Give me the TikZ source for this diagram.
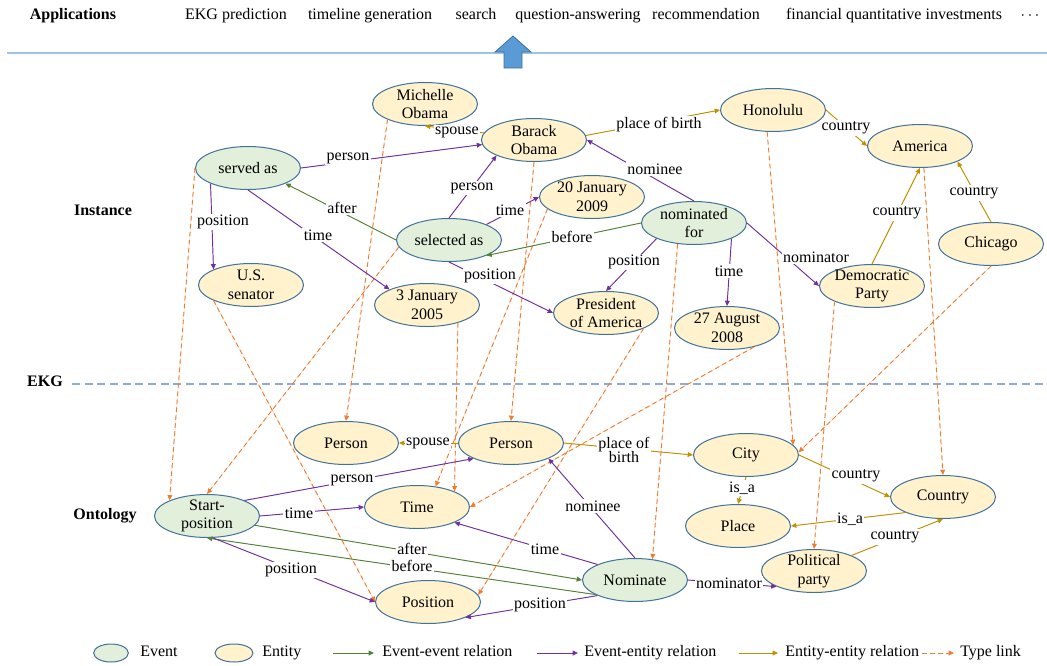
\documentclass[tikz,border=0pt]{standalone}
\usepackage{fontspec}
\setmainfont{Liberation Serif}
\newfontfamily\tnr{Liberation Serif}
\usetikzlibrary{shapes.geometric,arrows.meta}
\definecolor{evfill}{HTML}{E2EFDA}
\definecolor{enfill}{HTML}{FFF2CC}
\definecolor{nodeborder}{HTML}{41719C}
\definecolor{eecol}{HTML}{548235}
\definecolor{encol}{HTML}{7030A0}
\definecolor{nncol}{HTML}{BF9000}
\definecolor{tycol}{HTML}{ED7D31}
\definecolor{linecol}{HTML}{9DC3E6}
\definecolor{dashcol}{HTML}{8FAADC}
\definecolor{arrfill}{HTML}{5B9BD5}
\tikzset{
  base/.style={ellipse, draw=nodeborder, line width=0.75pt, inner xsep=-4pt, inner ysep=-6pt,
    minimum width=78.75pt, minimum height=32.25pt, align=center,
    font=\tnr\fontsize{12}{14}\selectfont},
  evnode/.style={base, fill=evfill},
  ennode/.style={base, fill=enfill},
  tip/.style={-{Triangle[length=4pt,width=3.6pt]}},
  eerel/.style={tip, draw=eecol, fill=eecol, line width=0.7pt},
  enrel/.style={tip, draw=encol, fill=encol, line width=0.7pt},
  nnrel/.style={tip, draw=nncol, fill=nncol, line width=0.7pt},
  tylink/.style={tip, draw=tycol, fill=tycol, line width=0.7pt, dash pattern=on 3.5pt off 2.5pt},
  lbl/.style={fill=white, inner sep=1pt, text=black, align=center,
    font=\tnr\fontsize{12}{11}\selectfont},
  txt/.style={inner sep=0pt, text height=8.2pt, text depth=2.6pt, font=\tnr\fontsize{12}{14}\selectfont},
  btxt/.style={inner sep=0pt, text height=8.2pt, text depth=2.6pt, font=\tnr\fontsize{12}{14}\selectfont\bfseries},
}
\begin{document}
\begin{tikzpicture}[x=0.75pt,y=-0.75pt]
\useasboundingbox (0,0) rectangle (1047,665);

% top bar
\node[btxt] (apps) at (73,16) {Applications};
\node[txt] (a1) at (236,16) {EKG prediction};
\node[txt] (a2) at (370,16) {timeline generation};
\node[txt] (a3) at (476,16) {search};
\node[txt] (a4) at (578,16) {question-answering};
\node[txt] (a5) at (706,16) {recommendation};
\node[txt] (a6) at (894,16) {financial quantitative investments};
\node[txt] (a7) at (1030,16) {$\cdots$};
\coordinate (tl) at (7,53);
\coordinate (tr) at (1047,53);
\draw[linecol, line width=1.5pt] (tl) -- (tr);
\draw[nodeborder, fill=arrfill, line width=0.6pt]
  (504,68) -- (504,52) -- (495,52) -- (513,36) -- (531,52) -- (522,52) -- (522,68) -- cycle;

% side labels
\node[btxt] (inst) at (103,212) {Instance};
\node[btxt] (ekg) at (45,383) {EKG};
\node[btxt] (onto) at (105,516) {Ontology};
\coordinate (dl) at (72,384);
\coordinate (dr) at (1047,384);
\draw[dashcol, line width=1pt, dash pattern=on 6pt off 3.5pt] (dl) -- (dr);

% instance nodes
\node[ennode] (michelle) at (425,104) {Michelle\\Obama};
\node[ennode] (barack) at (534,140) {Barack\\Obama};
\node[evnode] (served) at (248,168) {served as};
\node[ennode] (senator) at (251,285) {U.S.\\senator};
\node[evnode] (selected) at (449,240) {selected as};
\node[ennode] (jan2005) at (427,305) {3 January\\2005};
\node[ennode] (jan2009) at (592,197) {20 January\\2009};
\node[evnode] (nominated) at (694,223) {nominated\\for};
\node[ennode] (president) at (606,313) {President\\of America};
\node[ennode] (aug2008) at (727,328) {27 August\\2008};
\node[ennode] (honolulu) at (773,110) {Honolulu};
\node[ennode] (america) at (920,146) {America};
\node[ennode] (chicago) at (991,244) {Chicago};
\node[ennode] (democratic) at (872,286) {Democratic\\Party};

% ontology nodes
\node[ennode] (personL) at (346,443) {Person};
\node[ennode] (personR) at (511,443) {Person};
\node[evnode] (startpos) at (207,516) {Start-\\position};
\node[ennode] (time) at (417,507) {Time};
\node[ennode] (position) at (428,602) {Position};
\node[evnode] (nominate) at (635,580) {Nominate};
\node[ennode] (city) at (746,455) {City};
\node[ennode] (place) at (738,526) {Place};
\node[ennode] (country) at (943,497) {Country};
\node[ennode] (polparty) at (814,571) {Political\\party};

% type links
\draw[tylink] (served.west) -- (startpos.north west);
\draw[tylink] (michelle.south west) -- (personL.north);
\draw[tylink] (senator.south west) -- (position.west);
\draw[tylink] (selected.188) -- (startpos.north);
\draw[tylink] (jan2005.-30) -- (time.north east);
\draw[tylink] (barack.south) -- (personR.north);
\draw[tylink] (jan2009.195) -- (time.48);
\draw[tylink] (president.south east) -- (position.8);
\draw[tylink] (aug2008.-35) -- (time.east);
\draw[tylink] (nominated.232) -- (nominate.50);
\draw[tylink] (honolulu.255) -- (city.12);
\draw[tylink] (democratic.south west) -- (polparty.north);
\draw[tylink] (chicago.south) -- (city.3);
\draw[tylink] (america.-80) -- (country.north);

% instance relations
\draw[enrel] (served.east) -- (barack.185) node[lbl, at={(348,158)}] {person};
\draw[enrel] (served.south west) -- (senator.north west) node[lbl, at={(223,222)}] {position};
\draw[enrel] (served.south) -- (jan2005.north west) node[lbl, at={(318,235)}] {time};
\draw[eerel] (selected.west) -- (served.south east) node[lbl, at={(342,208)}] {after};
\draw[enrel] (selected.north) -- (barack.south west) node[lbl, at={(472,188)}] {person};
\draw[enrel] (selected.north east) -- (jan2009.west) node[lbl, at={(510,210)}] {time};
\draw[enrel] (selected.south) -- (president.west) node[lbl, at={(490,276)}] {position};
\draw[eerel] (nominated.west) -- (selected.south east) node[lbl, at={(572,237)}] {before};
\draw[enrel] (nominated.north) -- (barack.east) node[lbl, at={(655,169)}] {nominee};
\draw[enrel] (nominated.south west) -- (president.north) node[lbl, at={(634,262)}] {position};
\draw[enrel] (nominated.south east) -- (aug2008.north) node[lbl, at={(729,271)}] {time};
\draw[enrel] (nominated.east) -- (democratic.west) node[lbl, at={(816,257)}] {nominator};
\draw[nnrel] (barack.172) -- (michelle.south) node[lbl, at={(457,132)}] {spouse};
\draw[nnrel] (barack.5) -- (honolulu.west) node[lbl, at={(659,125)}] {place of birth};
\draw[nnrel] (honolulu.east) -- (america.west) node[lbl, at={(846,128)}] {country};
\draw[nnrel] (democratic.north) -- (america.south) node[lbl, at={(897,213)}] {country};
\draw[nnrel] (chicago.north) -- (america.south east) node[lbl, at={(974,193)}] {country};

% ontology relations
\draw[nnrel] (personR.west) -- (personL.east) node[lbl, at={(428,443)}] {spouse};
\draw[enrel] (startpos.north east) -- (personR.south west) node[lbl, at={(352,480)}] {person};
\draw[enrel] (startpos.east) -- (time.west) node[lbl, at={(299,513)}] {time};
\draw[eerel] (startpos.-11) -- (nominate.west) node[lbl, at={(412,549)}] {after};
\draw[eerel] (nominate.200) -- (startpos.south) node[lbl, at={(412,566)}] {before};
\draw[enrel] (startpos.285) -- (position.west) node[lbl, at={(291,570)}] {position};
\draw[enrel] (nominate.north west) -- (time.south east) node[lbl, at={(545,549)}] {time};
\draw[enrel] (nominate.north) -- (personR.south east) node[lbl, at={(593,506)}] {nominee};
\draw[enrel] (nominate.south west) -- (position.south east) node[lbl, at={(540,605)}] {position};
\draw[enrel] (nominate.east) -- (polparty.south west) node[lbl, at={(729,583)}] {nominator};
\draw[nnrel] (personR.east) -- (city.west) node[lbl, at={(624,450)}] {place of\\birth};
\draw[nnrel] (city.south) -- (place.north) node[lbl, at={(742,488)}] {is\_a};
\draw[nnrel] (city.east) -- (country.west) node[lbl, at={(856,476)}] {country};
\draw[nnrel] (country.south west) -- (place.east) node[lbl, at={(850,519)}] {is\_a};
\draw[nnrel] (polparty.north east) -- (country.south) node[lbl, at={(895,537)}] {country};

% legend
\node[evnode, minimum width=26pt, minimum height=13.5pt, inner sep=0pt] (lgev) at (111,653) {};
\node[txt, anchor=west] (lgevt) at (140,653) {Event};
\node[ennode, minimum width=28.5pt, minimum height=13.5pt, inner sep=0pt] (lgen) at (234,653) {};
\node[txt, anchor=west] (lgent) at (262,653) {Entity};
\coordinate (l1a) at (333,653); \coordinate (l1b) at (374,653);
\draw[eerel] (l1a) -- (l1b);
\node[txt, anchor=west] (lg1) at (382,653) {Event-event relation};
\coordinate (l2a) at (537,653); \coordinate (l2b) at (578,653);
\draw[enrel] (l2a) -- (l2b);
\node[txt, anchor=west] (lg2) at (584,653) {Event-entity relation};
\coordinate (l3a) at (739,653); \coordinate (l3b) at (778,653);
\draw[nnrel] (l3a) -- (l3b);
\node[txt, anchor=west] (lg3) at (785,653) {Entity-entity relation};
\coordinate (l4a) at (922,653); \coordinate (l4b) at (954,653);
\draw[tylink] (l4a) -- (l4b);
\node[txt, anchor=west] (lg4) at (960,653) {Type link};
\end{tikzpicture}
\end{document}
